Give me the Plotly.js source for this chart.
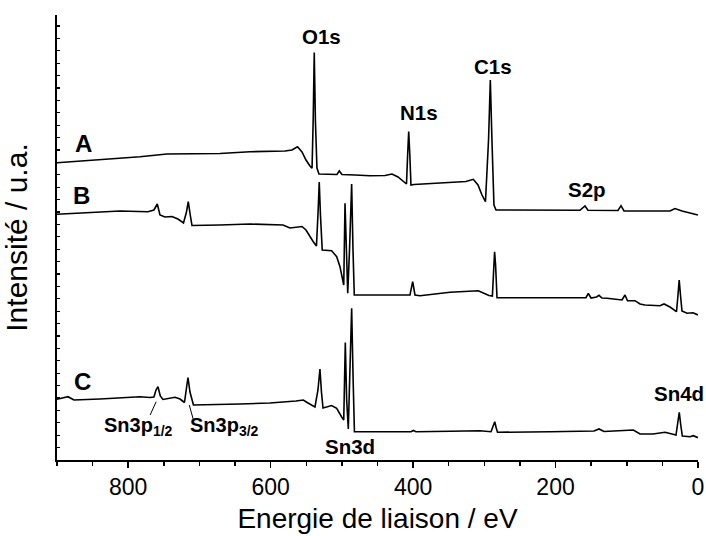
<!DOCTYPE html>
<html>
<head>
<meta charset="utf-8">
<script src="https://cdn.plot.ly/plotly-3.0.1.min.js"></script>
<style>html,body{margin:0;padding:0;background:#fff;}#chart{width:706px;height:536px;}</style>
</head>
<body>
<div id="chart"></div>
<script>
// Binding energy (eV) and intensity (a.u., offset stacked) for spectra A, B, C
const energyA = [900, 860.7, 825.6, 783.5, 745.6, 706.3, 671.2, 629, 601, 579.9, 570.1, 562.3, 556, 550.4, 544.8, 541.9, 540.3, 538.8, 537.2, 535, 532.2, 516.7, 506.9, 503.6, 499.9, 481.6, 460.5, 439.5, 429.7, 421.2, 412.8, 409.3, 407.7, 406.2, 404.6, 403, 398.8, 362.3, 325.8, 315.5, 308.9, 303.3, 298.4, 294.1, 291.6, 289.3, 286.5, 283.6, 221.8, 165.7, 158.7, 154.5, 112.3, 108.1, 103.9, 67.4, 39.3, 32.3, 22.5, 11.2, 0];
const intensityA = [297.3, 299.3, 300.7, 303.3, 306, 306, 306.5, 308.3, 308.3, 309, 310, 313.3, 308, 300, 294, 291.7, 340, 407.5, 340, 292, 286, 286, 285.5, 289, 285.5, 285, 284.3, 284.5, 286, 283, 278, 276, 305, 328.5, 305, 275, 275.5, 277, 278.5, 280.7, 275, 265, 258.3, 320, 380, 320, 255, 250, 250, 249.7, 254, 249.7, 249.5, 254.3, 249, 249, 249, 251.5, 249, 247, 245];

const energyB = [900, 853.7, 811.6, 772.3, 763.9, 759.2, 755.4, 748.4, 738.6, 730.2, 722.4, 718.2, 715.7, 712.9, 710.5, 671.2, 629, 582.7, 572.9, 556, 550.4, 540.2, 535.7, 533.3, 531.8, 530.1, 527.6, 514.4, 507.3, 502.7, 498.9, 497.4, 495.6, 493.5, 491.8, 489.3, 486.3, 484.4, 482.6, 446.5, 404.4, 400.6, 397.4, 390.3, 348.2, 308.5, 300.5, 293.5, 288.7, 287, 285.6, 284.2, 282.2, 221.8, 157.3, 154, 150.2, 142.5, 139, 134.8, 127.8, 106.7, 102.5, 99, 88.5, 81.4, 74.4, 53.4, 47.7, 39.3, 30.2, 28.1, 26.4, 24.6, 22.5, 15.4, 7, 0];
const intensityB = [245.7, 247.7, 249, 248.3, 250, 256, 245, 243, 243.5, 241, 237, 248, 258.3, 245, 234.5, 235, 236, 235, 232, 233.5, 230, 218.3, 214, 250, 278, 245, 210, 209.3, 203.3, 193.3, 181.7, 175, 256.7, 200, 166.7, 210, 276, 210, 165, 165, 165, 178.3, 165, 164.3, 167.7, 169.3, 167, 164.5, 164, 195, 208.3, 195, 162.3, 162.3, 162.3, 166.7, 162, 163, 164.7, 162, 161.7, 160, 165, 159.3, 159.3, 156, 155, 154.3, 156, 153, 148.3, 165, 180, 165, 149, 146.7, 147.3, 145];

const energyC = [900, 890.2, 884.6, 876.2, 839.7, 783.5, 769.5, 763.9, 761, 758.2, 755, 751.2, 741.4, 734.3, 727.3, 721, 718.2, 716.1, 713.3, 708.4, 643.1, 601, 564.5, 554.2, 547.6, 537.8, 533.6, 530.8, 528.7, 526.5, 514.4, 507.3, 500.3, 497.4, 495.2, 493.3, 491, 488.6, 486.3, 484.2, 482.4, 446.5, 403, 399.7, 396, 348.2, 306.1, 290.6, 287.5, 285.4, 283.3, 281.5, 207.8, 146, 139, 132, 90.8, 81.4, 63.2, 46.3, 30.9, 28.1, 26.3, 24.2, 22, 11.2, 6.6, 0];
const intensityC = [60.7, 62.5, 63.3, 60, 61, 63.3, 62.5, 63, 70, 73.3, 64, 60.5, 62, 62.7, 61, 57.5, 72, 82.5, 68, 55, 56, 57, 59, 60, 57, 53, 70, 91, 68, 52, 54.5, 51.7, 43, 40, 117.5, 60, 31, 100, 151.7, 80, 28.3, 28.3, 28.3, 29.5, 28.3, 28.7, 29.3, 28.3, 34, 38.3, 32, 27.7, 28.3, 29, 31, 28.5, 30, 26, 26, 27.7, 25, 37, 47.7, 35, 24, 23.3, 24.3, 22.3];

const seriesNames = ["A", "B", "C"];
const xTickVals = [800, 600, 400, 200, 0];
const xTickText = ["800", "600", "400", "200", "0"];

const FONT = "Liberation Sans, Arial, Helvetica, sans-serif";
const lineStyle = {color: "#000", width: 1.6};

const traces = [
  {x: energyA, y: intensityA, name: seriesNames[0]},
  {x: energyB, y: intensityB, name: seriesNames[1]},
  {x: energyC, y: intensityC, name: seriesNames[2]}
].map(t => Object.assign(t, {type: "scatter", mode: "lines", line: lineStyle, hoverinfo: "x+y"}));

function lbl(text, x, y, size, extra) {
  return Object.assign({
    text: text, x: x, y: y, xref: "x", yref: "y", showarrow: false,
    xanchor: "center", yanchor: "middle",
    font: {family: FONT, size: size, color: "#000", weight: "bold"}
  }, extra || {});
}

const annotations = [
  lbl("O1s", 528, 423.3, 20.5),
  lbl("N1s", 392.4, 347.3, 20.5),
  lbl("C1s", 288.5, 393.3, 20.5),
  lbl("S2p", 155.2, 270.7, 20.5),
  lbl("Sn3d", 489.3, 13.3, 20.5),
  lbl("Sn4d", 26.7, 66.7, 20.5),
  lbl(seriesNames[0], 863.1, 316.7, 24),
  lbl(seriesNames[1], 866.3, 265, 24),
  lbl(seriesNames[2], 864.9, 78.3, 24),
  lbl("Sn3p<sub>1/2</sub>", 836.5, 34, 20, {xanchor: "left"}),
  lbl("Sn3p<sub>3/2</sub>", 715.5, 34, 20, {xanchor: "left"})
];

const shapes = [
  {type: "line", xref: "x", yref: "y", x0: 760.8, y0: 58.3, x1: 769.2, y1: 45, line: {color: "#000", width: 1}},
  {type: "line", xref: "x", yref: "y", x0: 714.3, y0: 55, x1: 708.7, y1: 40.7, line: {color: "#000", width: 1}}
];

const layout = {
  width: 706, height: 536,
  margin: {l: 57, r: 8, t: 15, b: 76},
  paper_bgcolor: "#fff", plot_bgcolor: "#fff",
  showlegend: false,
  font: {family: FONT, color: "#000"},
  xaxis: {
    range: [900, 0], autorange: false,
    showline: true, linecolor: "#000", linewidth: 1.8,
    showgrid: false, zeroline: false,
    ticks: "outside", ticklen: 6, tickwidth: 1.5, tickcolor: "#000",
    tickmode: "array", tickvals: xTickVals, ticktext: xTickText,
    tickfont: {family: FONT, size: 23, color: "#000"},
    minor: {dtick: 50, tick0: 0, ticks: "outside", ticklen: 4, tickwidth: 1.5, tickcolor: "#000", showgrid: false},
    title: {text: "Energie de liaison / eV", font: {family: FONT, size: 28, color: "#000"}, standoff: 9},
    automargin: false
  },
  yaxis: {
    range: [0, 445], autorange: false,
    showline: true, linecolor: "#000", linewidth: 1.8,
    showgrid: false, zeroline: false,
    ticks: "inside", ticklen: 3, tickwidth: 1.2, tickcolor: "#000",
    tick0: 0, dtick: 12.4,
    showticklabels: false,
    title: {text: "Intensité / u.a.", font: {family: FONT, size: 30, color: "#000"}, standoff: 22},
    automargin: false
  },
  annotations: annotations,
  shapes: shapes
};

Plotly.newPlot("chart", traces, layout, {displayModeBar: false, staticPlot: true});
</script>
</body>
</html>
